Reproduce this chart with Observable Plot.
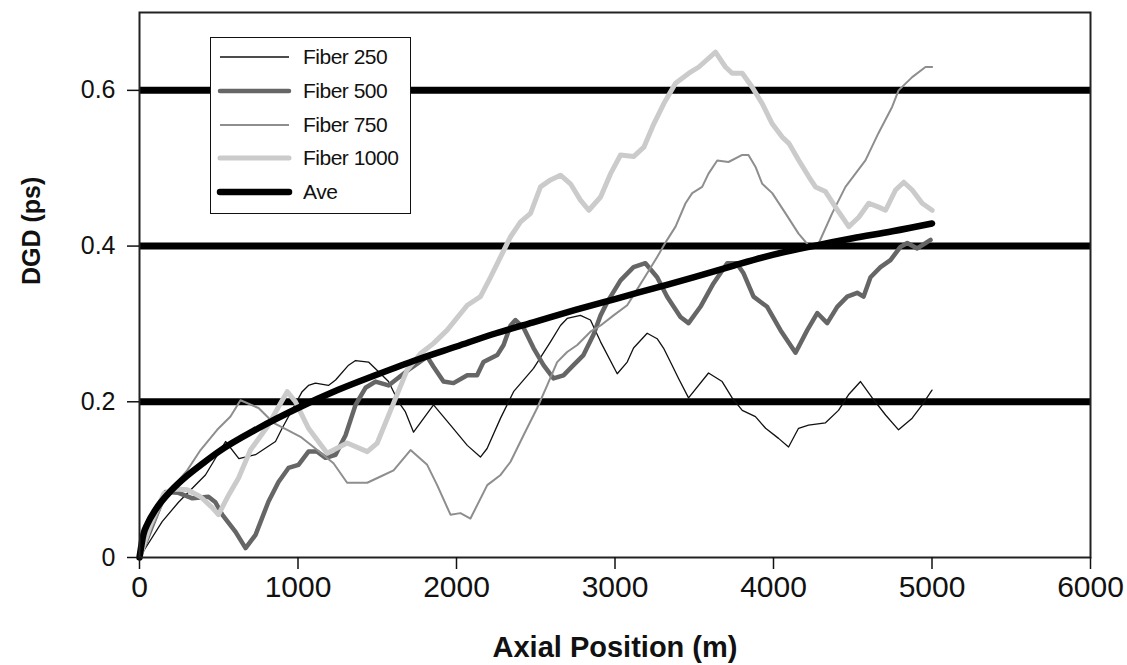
<!DOCTYPE html>
<html>
<head>
<meta charset="utf-8">
<script src="https://cdn.jsdelivr.net/npm/d3@7"></script>
<script src="https://cdn.jsdelivr.net/npm/@observablehq/plot@0.6"></script>
<style>
  html, body { margin: 0; padding: 0; background: #fff; }
  #wrap { position: relative; width: 1127px; height: 665px; font-family: "Liberation Sans", Arial, sans-serif; }
  #legend { position: absolute; background: #fff; border: 1.5px solid #111; box-sizing: border-box; }
  .row { position: absolute; left: 0; height: 30px; display: flex; align-items: center; }
  .row span { font-size: 21px; color: #111; letter-spacing: -0.5px; }
</style>
</head>
<body>
<div id="wrap"></div>
<script>
// ---- data ----
const seriesNames = ["Fiber 250", "Fiber 500", "Fiber 750", "Fiber 1000", "Ave"];

const fiber250X = [0,143,246,372,416,543,627,732,858,900,1026,1066,1110,1192,1237,1319,1363,1445,1531,1571,1634,1678,1729,1855,1962,2068,2151,2193,2278,2360,2486,2593,2656,2698,2782,2845,2909,3014,3077,3117,3203,3266,3306,3350,3401,3464,3590,3676,3739,3803,3886,3950,4032,4095,4158,4221,4328,4410,4473,4549,4623,4707,4789,4875,4938,5000];
const fiber250Y = [0,0.046,0.071,0.097,0.106,0.149,0.127,0.132,0.149,0.166,0.213,0.221,0.224,0.221,0.228,0.247,0.253,0.251,0.234,0.226,0.200,0.187,0.161,0.196,0.170,0.144,0.129,0.140,0.179,0.213,0.243,0.277,0.298,0.307,0.311,0.305,0.277,0.236,0.251,0.269,0.288,0.281,0.269,0.251,0.230,0.205,0.237,0.226,0.205,0.189,0.181,0.166,0.153,0.142,0.166,0.170,0.173,0.189,0.209,0.226,0.205,0.183,0.164,0.179,0.196,0.215];

const fiber500X = [0,69,164,246,334,435,479,522,606,669,732,814,877,940,1003,1066,1121,1174,1237,1300,1363,1426,1489,1571,1710,1815,1855,1918,1981,2068,2130,2170,2257,2297,2341,2372,2423,2486,2549,2612,2675,2738,2801,2864,2909,2951,3035,3117,3192,3266,3329,3413,3464,3539,3621,3708,3767,3811,3874,3960,4044,4139,4213,4276,4339,4402,4465,4528,4568,4612,4675,4738,4801,4844,4907,4991];
const fiber500Y = [0,0.035,0.084,0.083,0.076,0.078,0.071,0.055,0.033,0.012,0.029,0.072,0.097,0.115,0.119,0.136,0.136,0.128,0.132,0.157,0.196,0.218,0.226,0.221,0.243,0.258,0.245,0.226,0.224,0.234,0.234,0.251,0.260,0.273,0.298,0.305,0.295,0.269,0.247,0.230,0.234,0.247,0.260,0.286,0.311,0.328,0.356,0.373,0.378,0.360,0.335,0.309,0.301,0.322,0.352,0.378,0.378,0.365,0.335,0.322,0.292,0.263,0.292,0.314,0.301,0.322,0.335,0.340,0.335,0.360,0.373,0.382,0.399,0.404,0.397,0.408];

const fiber750X = [0,69,175,301,385,490,574,637,751,845,932,1016,1098,1224,1310,1437,1521,1603,1710,1815,1878,1962,2025,2088,2194,2278,2341,2423,2509,2572,2635,2698,2762,2845,2909,2991,3077,3117,3203,3266,3329,3382,3445,3487,3550,3590,3645,3716,3803,3842,3886,3929,3992,4076,4158,4221,4284,4370,4454,4580,4662,4749,4789,4875,4959,5001];
const fiber750Y = [0,0.035,0.082,0.112,0.138,0.164,0.181,0.202,0.192,0.173,0.164,0.155,0.142,0.121,0.096,0.096,0.104,0.112,0.138,0.119,0.093,0.055,0.057,0.050,0.093,0.106,0.123,0.157,0.192,0.221,0.251,0.264,0.273,0.290,0.298,0.311,0.324,0.337,0.365,0.386,0.408,0.425,0.455,0.468,0.476,0.493,0.510,0.508,0.517,0.517,0.502,0.480,0.468,0.442,0.416,0.401,0.403,0.442,0.476,0.510,0.545,0.579,0.600,0.617,0.630,0.630];

const fiber1000X = [0,69,153,227,301,385,459,498,562,625,700,806,890,932,984,1066,1184,1310,1437,1500,1584,1689,1773,1855,1941,2068,2151,2215,2278,2341,2404,2467,2530,2593,2656,2719,2782,2835,2909,2972,3035,3117,3182,3245,3308,3382,3466,3529,3634,3697,3739,3803,3866,3929,3992,4055,4097,4160,4223,4265,4328,4391,4475,4538,4601,4664,4707,4770,4822,4875,4938,5001];
const fiber1000Y = [0,0.042,0.082,0.088,0.087,0.078,0.064,0.055,0.080,0.102,0.138,0.168,0.198,0.213,0.200,0.166,0.134,0.147,0.136,0.147,0.189,0.241,0.262,0.275,0.292,0.324,0.335,0.360,0.386,0.412,0.431,0.442,0.476,0.485,0.491,0.480,0.459,0.446,0.463,0.493,0.517,0.515,0.527,0.557,0.583,0.609,0.622,0.630,0.649,0.630,0.622,0.622,0.604,0.583,0.557,0.540,0.532,0.510,0.489,0.476,0.470,0.450,0.425,0.437,0.455,0.450,0.446,0.472,0.482,0.472,0.455,0.446];

const aveX = [0,25,50,100,200,300,400,500,750,1000,1250,1500,1750,2000,2250,2500,2750,3000,3250,3500,3750,4000,4250,4500,4750,5000];
const aveY = [0,0.030,0.043,0.061,0.086,0.105,0.121,0.136,0.166,0.192,0.215,0.235,0.254,0.271,0.288,0.303,0.318,0.332,0.346,0.360,0.375,0.389,0.400,0.410,0.419,0.429];

const gridValues = [0.2, 0.4, 0.6];
const xTicks = [0, 1000, 2000, 3000, 4000, 5000, 6000];
const xTickLabels = ["0", "1000", "2000", "3000", "4000", "5000", "6000"];
const yTicks = [0, 0.2, 0.4, 0.6];
const yTickLabels = ["0", "0.2", "0.4", "0.6"];
const xTitle = "Axial Position (m)";
const yTitle = "DGD (ps)";

// ---- styles ----
const styles = {
  "Fiber 250":  {stroke: "#111111", width: 1.3, curve: "linear"},
  "Fiber 500":  {stroke: "#666666", width: 4.5, curve: "linear"},
  "Fiber 750":  {stroke: "#8e8e8e", width: 2,   curve: "linear"},
  "Fiber 1000": {stroke: "#cbcbcb", width: 5,   curve: "linear"},
  "Ave":        {stroke: "#000000", width: 6.5, curve: "monotone-x"}
};

const pairs = [[fiber250X, fiber250Y], [fiber500X, fiber500Y], [fiber750X, fiber750Y], [fiber1000X, fiber1000Y], [aveX, aveY]];
const tables = seriesNames.map((name, i) => pairs[i][0].map((x, j) => ({series: name, x, y: pairs[i][1][j]})));

const font = "Liberation Sans, Arial, sans-serif";

const chart = Plot.plot({
  width: 1127,
  height: 665,
  marginLeft: 139,
  marginRight: 37,
  marginTop: 12,
  marginBottom: 108,
  style: {fontFamily: font, background: "#fff", color: "#111"},
  x: {domain: [0, 6000]},
  y: {domain: [0, 0.7]},
  marks: [
    Plot.ruleY(gridValues, {stroke: "#000", strokeWidth: 7}),
    ...tables.map((t, i) => {
      const s = styles[seriesNames[i]];
      return Plot.line(t, {x: "x", y: "y", stroke: s.stroke, strokeWidth: s.width, curve: s.curve, strokeLinejoin: "round", strokeLinecap: "round"});
    }),
    Plot.frame({stroke: "#222", strokeWidth: 2}),
    Plot.axisX({ticks: xTicks, tickFormat: (d) => xTickLabels[xTicks.indexOf(d)], tickSize: 12, tickPadding: 6, fontSize: 30, label: null, strokeWidth: 1.5}),
    Plot.axisY({ticks: yTicks, tickFormat: (d) => yTickLabels[yTicks.indexOf(d)], tickSize: 12, tickPadding: 12, fontSize: 25, label: null, strokeWidth: 1.5}),
    Plot.text([xTitle], {text: (d) => d, frameAnchor: "bottom", dy: 90, fontSize: 29, fontWeight: "bold", lineAnchor: "middle", fill: "#111"}),
    Plot.text([yTitle], {text: (d) => d, frameAnchor: "left", dx: -108, rotate: -90, fontSize: 25, fontWeight: "bold", lineAnchor: "middle", fill: "#111"})
  ]
});

const wrap = document.getElementById("wrap");
wrap.appendChild(chart);

// ---- legend (HTML overlay) ----
const legend = document.createElement("div");
legend.id = "legend";
Object.assign(legend.style, {left: "210px", top: "37px", width: "201px", height: "177px"});
seriesNames.forEach((name, i) => {
  const s = styles[name];
  const row = document.createElement("div");
  row.className = "row";
  row.style.top = (4 + i * 33.8) + "px";
  const svg = d3.create("svg").attr("width", 92).attr("height", 30);
  svg.append("line").attr("x1", 9).attr("x2", 78).attr("y1", 15).attr("y2", 15)
    .attr("stroke", s.stroke).attr("stroke-width", s.width).attr("stroke-linecap", s.width > 3 ? "round" : "butt");
  row.appendChild(svg.node());
  const label = document.createElement("span");
  label.textContent = name;
  row.appendChild(label);
  legend.appendChild(row);
});
wrap.appendChild(legend);
</script>
</body>
</html>
